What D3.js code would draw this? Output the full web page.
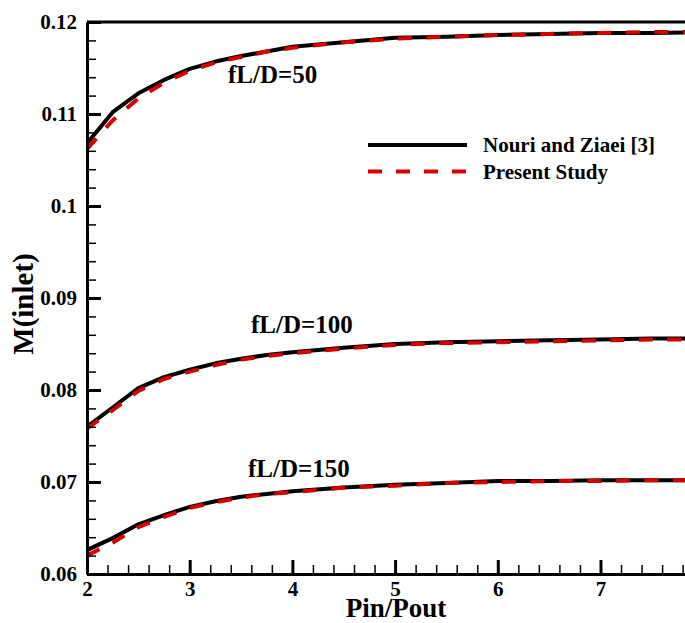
<!DOCTYPE html>
<html>
<head>
<meta charset="utf-8">
<script src="https://cdn.jsdelivr.net/npm/d3@7"></script>
<style>
  body { margin: 0; background: #fff; }
  svg { display: block; font-family: "Liberation Serif", "Times New Roman", serif; font-weight: bold; }
</style>
</head>
<body>
<div id="chart"></div>
<script>
// Pressure ratio samples
const pr = [2, 2.25, 2.5, 2.75, 3, 3.25, 3.5, 3.75, 4, 4.5, 5, 5.5, 6, 6.5, 7, 7.5, 8];

// Nouri and Ziaei [3]
const ref50  = [0.1068, 0.1102, 0.11225, 0.1137, 0.1149, 0.1157, 0.1163, 0.1168, 0.1173, 0.1178, 0.1183, 0.1184, 0.1186, 0.1187, 0.1188, 0.1188, 0.1189];
const ref100 = [0.0760, 0.0781, 0.0802, 0.0814, 0.0822, 0.0829, 0.0834, 0.0838, 0.0841, 0.0846, 0.0850, 0.0852, 0.0853, 0.0854, 0.0855, 0.0856, 0.0856];
const ref150 = [0.0626, 0.0639, 0.0654, 0.0664, 0.0673, 0.0679, 0.0684, 0.0687, 0.0690, 0.0694, 0.0697, 0.0699, 0.0701, 0.0701, 0.0702, 0.0702, 0.0702];

// Present Study
const cur50  = [0.1062, 0.1093, 0.1117, 0.1134, 0.1147, 0.1156, 0.1162, 0.1168, 0.1172, 0.1178, 0.1182, 0.1184, 0.1186, 0.1187, 0.1188, 0.1189, 0.1189];
const cur100 = [0.0758, 0.0778, 0.0799, 0.0812, 0.0820, 0.0827, 0.0833, 0.0837, 0.0840, 0.0845, 0.0849, 0.0851, 0.0852, 0.0853, 0.0854, 0.0855, 0.0855];
const cur150 = [0.0620, 0.0634, 0.0651, 0.0662, 0.0672, 0.0678, 0.0683, 0.0687, 0.0689, 0.0694, 0.0696, 0.0699, 0.0700, 0.0701, 0.0701, 0.0702, 0.0702];

const xTicks = [2, 3, 4, 5, 6, 7];
const yTicks = [0.06, 0.07, 0.08, 0.09, 0.1, 0.11, 0.12];
const curveLabels = ['fL/D=50', 'fL/D=100', 'fL/D=150'];
const legendLabels = ['Nouri and Ziaei [3]', 'Present Study'];

const width = 685, height = 623;
const margin = { top: 22, right: 0, bottom: 49, left: 87 };

const svg = d3.select('#chart').append('svg')
  .attr('width', width)
  .attr('height', height);

const x = d3.scaleLinear().domain([2, 7.823]).range([margin.left, width - margin.right]);
const y = d3.scaleLinear().domain([0.06, 0.12]).range([height - margin.bottom, margin.top]);

svg.append('clipPath').attr('id', 'plotClip')
  .append('rect')
  .attr('x', margin.left).attr('y', margin.top)
  .attr('width', width - margin.left - margin.right)
  .attr('height', height - margin.top - margin.bottom);

// Lines
const line = d3.line()
  .x((d, i) => x(pr[i]))
  .y(d => y(d));

const plot = svg.append('g').attr('clip-path', 'url(#plotClip)');

[ref50, ref100, ref150].forEach(s => {
  plot.append('path')
    .attr('d', line(s))
    .attr('fill', 'none')
    .attr('stroke', '#000')
    .attr('stroke-width', 4)
    .attr('stroke-linejoin', 'round');
});

[cur50, cur100, cur150].forEach(s => {
  plot.append('path')
    .attr('d', line(s))
    .attr('fill', 'none')
    .attr('stroke', '#d40000')
    .attr('stroke-width', 4)
    .attr('stroke-dasharray', '14,14.5')
    .attr('stroke-linecap', 'butt');
});

// Minor ticks
const xMinor = d3.range(2, 7.85, 0.2).filter(v => Math.abs(v - Math.round(v)) > 1e-6);
const yMinor = d3.range(0.06, 0.1201, 0.002).filter(v => Math.abs(v * 100 - Math.round(v * 100)) > 1e-6);

svg.append('g')
  .attr('transform', `translate(0,${y(0.06)})`)
  .call(d3.axisBottom(x).tickValues(xMinor).tickFormat('').tickSizeInner(-9).tickSizeOuter(0))
  .call(g => g.select('.domain').remove())
  .call(g => g.selectAll('line').attr('stroke-width', 1.5));

svg.append('g')
  .attr('transform', `translate(${x(2)},0)`)
  .call(d3.axisLeft(y).tickValues(yMinor).tickFormat('').tickSizeInner(-9).tickSizeOuter(0))
  .call(g => g.select('.domain').remove())
  .call(g => g.selectAll('line').attr('stroke-width', 1.5));

// Major axes
const xAxis = svg.append('g')
  .attr('transform', `translate(0,${y(0.06)})`)
  .call(d3.axisBottom(x).tickValues(xTicks).tickFormat(d3.format('d')).tickSizeInner(-14).tickSizeOuter(0).tickPadding(7));

const yAxis = svg.append('g')
  .attr('transform', `translate(${x(2)},0)`)
  .call(d3.axisLeft(y).tickValues(yTicks).tickFormat(d => String(+d.toFixed(2))).tickSizeInner(-14).tickSizeOuter(0).tickPadding(10));

[xAxis, yAxis].forEach(g => {
  g.select('.domain').attr('stroke-width', 3);
  g.selectAll('.tick line').attr('stroke-width', 3);
  g.selectAll('.tick text')
    .attr('font-family', '"Liberation Serif", serif')
    .attr('font-weight', 'bold')
    .attr('font-size', 21)
    .attr('fill', '#000');
});

// Top border
svg.append('line')
  .attr('x1', x(2)).attr('x2', width)
  .attr('y1', y(0.12)).attr('y2', y(0.12))
  .attr('stroke', '#000')
  .attr('stroke-width', 3);

// Axis titles
svg.append('text')
  .attr('x', 396).attr('y', 617)
  .attr('text-anchor', 'middle')
  .attr('font-size', 27)
  .text('Pin/Pout');

svg.append('text')
  .attr('transform', 'translate(33,304) rotate(-90)')
  .attr('text-anchor', 'middle')
  .attr('font-size', 29)
  .text('M(inlet)');

// Curve annotations
const annPos = [[228, 83], [251, 333], [248, 477]];
curveLabels.forEach((t, i) => {
  svg.append('text')
    .attr('x', annPos[i][0]).attr('y', annPos[i][1])
    .attr('font-size', 25)
    .text(t);
});

// Legend
const legend = svg.append('g').attr('transform', 'translate(368,145)');
legendLabels.forEach((t, i) => {
  const ly = i * 26.5;
  legend.append('line')
    .attr('x1', 0).attr('x2', 99)
    .attr('y1', ly).attr('y2', ly)
    .attr('stroke', i === 0 ? '#000' : '#d40000')
    .attr('stroke-width', 4)
    .attr('stroke-dasharray', i === 0 ? null : '14,14');
  legend.append('text')
    .attr('x', 115).attr('y', ly + 7)
    .attr('font-size', 21)
    .text(t);
});
</script>
</body>
</html>
